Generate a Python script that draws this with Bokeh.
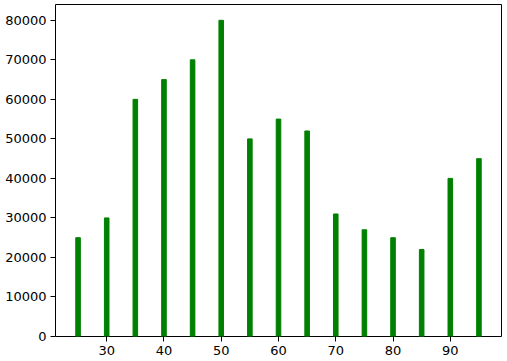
from bokeh.plotting import figure
from bokeh.models import Range1d, FixedTicker
from bokeh.embed import file_html
from bokeh.resources import INLINE

ages = [25, 30, 35, 40, 45, 50, 55, 60, 65, 70, 75, 80, 85, 90, 95]
counts = [25000, 30000, 60000, 65000, 70000, 80000, 50000, 55000, 52000,
          31000, 27000, 25000, 22000, 40000, 45000]
x_ticks = [30, 40, 50, 60, 70, 80, 90]
y_ticks = [0, 10000, 20000, 30000, 40000, 50000, 60000, 70000, 80000]

p = figure(width=507, height=361, output_backend="svg", toolbar_location=None,
           x_range=Range1d(21.06, 98.94), y_range=Range1d(0, 84000),
           min_border_left=55, min_border_right=6, min_border_top=4,
           min_border_bottom=25)

p.vbar(x=ages, top=counts, width=0.8, color="#008000")

p.xgrid.visible = False
p.ygrid.visible = False
p.outline_line_color = "black"
p.outline_line_width = 1
p.outline_line_alpha = 1

for ax in (p.xaxis[0], p.yaxis[0]):
    ax.axis_line_color = None
    ax.major_tick_out = 5
    ax.major_tick_in = 0
    ax.minor_tick_out = 0
    ax.minor_tick_in = 0
    ax.major_tick_line_color = "black"
    ax.major_label_text_font = "DejaVu Sans"
    ax.major_label_text_font_size = "13px"
    ax.major_label_text_color = "black"
    ax.major_label_standoff = 4

p.xaxis.ticker = FixedTicker(ticks=x_ticks)
p.yaxis.ticker = FixedTicker(ticks=y_ticks)

open("out.html", "w").write(file_html(p, INLINE))
